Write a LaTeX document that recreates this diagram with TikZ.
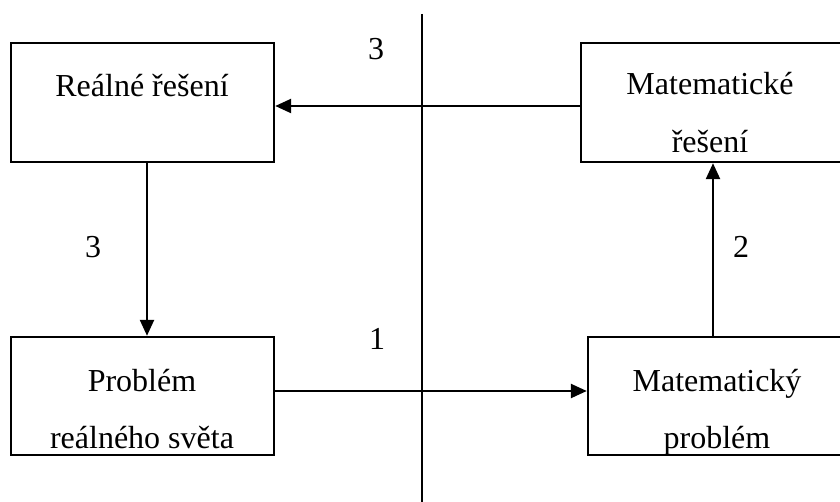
\documentclass[tikz,border=0pt]{standalone}
\usepackage{fontspec}
\setmainfont{Liberation Serif}
\usetikzlibrary{arrows.meta}
\begin{document}
\begin{tikzpicture}[x=1pt,y=-1pt,
  box/.style={draw,line width=2.4pt,inner sep=0pt},
  txt/.style={anchor=base,inner sep=0pt,font=\fontsize{32}{38}\selectfont},
  conn/.style={line width=2.4pt,-{Triangle[length=16pt,width=14pt]}}]
\useasboundingbox (0,0) rectangle (840,502);
% boxes
\node[box,minimum width=263pt,minimum height=119pt] (rr) at (142.5,102.5) {};
\node[box,minimum width=261pt,minimum height=119pt] (mr) at (711.5,102.5) {};
\node[box,minimum width=263pt,minimum height=118pt] (prs) at (142.5,396) {};
\node[box,minimum width=255pt,minimum height=118pt] (mp) at (715.5,396) {};
% texts
\node[txt] (t1) at (142,97) {Reálné řešení};
\node[txt] (t2) at (710,95) {Matematické};
\node[txt] (t3) at (710,153) {řešení};
\node[txt] (t4) at (142,391) {Problém};
\node[txt] (t5) at (142,448) {reálného světa};
\node[txt] (t6) at (717,391) {Matematický};
\node[txt] (t7) at (717,448) {problém};
% divider
\coordinate (vtop) at (422,14);
\coordinate (vbot) at (422,502);
\draw[line width=2.4pt] (vtop) -- (vbot);
% connectors
\draw[conn] (mr.west |- 0,106) -- (rr.east |- 0,106);
\draw[conn] (rr.south -| 147,0) -- (prs.north -| 147,0);
\draw[conn] (prs.east |- 0,391) -- (mp.west |- 0,391);
\draw[conn] (mp.north -| 713,0) -- (mr.south -| 713,0);
% labels
\node[txt] (l1) at (376,60) {3};
\node[txt] (l2) at (377,349) {1};
\node[txt] (l3) at (93,258) {3};
\node[txt] (l4) at (741,258) {2};
\end{tikzpicture}
\end{document}
